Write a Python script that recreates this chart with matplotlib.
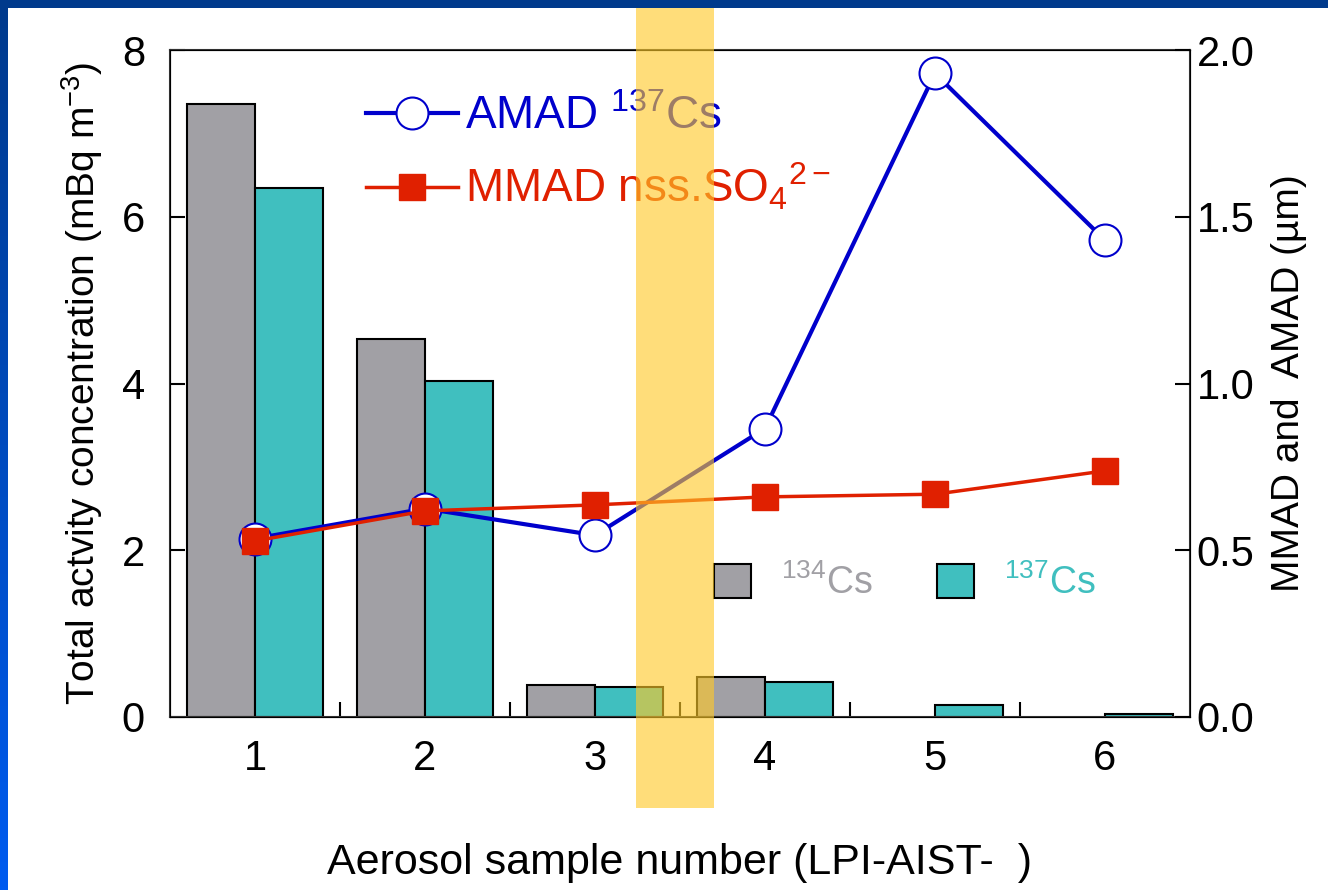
import numpy as np
import matplotlib.pyplot as plt
from matplotlib.patches import Rectangle, Patch
from matplotlib.lines import Line2D
from matplotlib.colors import LinearSegmentedColormap
from matplotlib import transforms

plt.rcParams['font.family'] = ['Liberation Sans', 'DejaVu Sans']
plt.rcParams['mathtext.fontset'] = 'custom'
plt.rcParams['mathtext.rm'] = 'Liberation Sans'
plt.rcParams['mathtext.it'] = 'Liberation Sans:italic'
plt.rcParams['mathtext.default'] = 'regular'

# data (nan = no 134Cs bar)
samples = [1, 2, 3, 4, 5, 6]
cs134 = [7.35, 4.53, 0.38, 0.48, np.nan, np.nan]
cs137 = [6.34, 4.03, 0.36, 0.42, 0.14, 0.04]
amad_cs137 = [0.535, 0.625, 0.545, 0.865, 1.93, 1.43]
mmad_so4 = [0.528, 0.618, 0.636, 0.66, 0.668, 0.738]
band = [3.24, 3.70]  # highlighted sample span

gray = '#a1a0a5'
teal = '#40bfbf'
blue = '#0000cc'
red = '#e02000'

fig = plt.figure(figsize=(13.28, 8.9), dpi=100)
ax = fig.add_axes([0.128, 0.1944, 0.768, 0.7494])
x = np.array(samples)
w = 0.4
ax.bar(x - w / 2, cs134, w, color=gray, edgecolor='black', linewidth=1.5, zorder=2)
ax.bar(x + w / 2, cs137, w, color=teal, edgecolor='black', linewidth=1.5, zorder=2)
ax.set_xlim(0.5, 6.5)
ax.set_ylim(0, 8)
ax.set_yticks([0, 2, 4, 6, 8])
ax.set_xticks(samples)
ax.set_xticks(np.arange(1.5, 6, 1), minor=True)
ax.tick_params(axis='x', which='major', length=0, pad=16, labelsize=30)
ax.tick_params(axis='x', which='minor', direction='in', length=11, width=1.5)
ax.tick_params(axis='y', direction='in', length=11, width=1.5, pad=18, labelsize=30)
for s in ax.spines.values():
    s.set_linewidth(1.5)
    s.set_color('#333333')
ax.set_xlabel('Aerosol sample number (LPI-AIST-  )', fontsize=31, labelpad=46)
ax.set_ylabel('Total actvity concentration (mBq m$^{-3}$)', fontsize=28, labelpad=12)

leg1 = ax.legend(handles=[Patch(facecolor=gray, edgecolor='black', linewidth=1.5),
                          Patch(facecolor=teal, edgecolor='black', linewidth=1.5)],
                 labels=['$^{134}$Cs', '$^{137}$Cs'], ncol=2, frameon=False,
                 fontsize=27, handlelength=1.0, handleheight=1.0, handletextpad=0.8,
                 columnspacing=1.7, loc='upper left', bbox_to_anchor=(0.50, 0.28))
for t, c in zip(leg1.get_texts(), [gray, teal]):
    t.set_color(c)

ax2 = ax.twinx()
ax2.plot(x, amad_cs137, color=blue, lw=3, marker='o', ms=23, mfc='white',
         mec=blue, mew=1.5, zorder=3)
ax2.plot(x, mmad_so4, color=red, lw=2.5, marker='s', ms=19, mfc=red,
         mec=red, zorder=4)
ax2.set_ylim(0, 2.0)
ax2.set_yticks([0, 0.5, 1.0, 1.5, 2.0])
ax2.set_yticklabels(['0.0', '0.5', '1.0', '1.5', '2.0'])
ax2.tick_params(axis='y', direction='in', length=11, width=1.5, pad=5, labelsize=30)
ax2.set_ylabel('MMAD and  AMAD (\u00b5m)', fontsize=28, labelpad=12)

leg2 = ax2.legend(handles=[Line2D([], [], color=blue, lw=3, marker='o', ms=23, mfc='white', mec=blue, mew=1.5),
                           Line2D([], [], color=red, lw=2.5, marker='s', ms=19, mfc=red, mec=red)],
                  labels=['AMAD $^{137}$Cs', 'MMAD nss.SO$_{4}{}^{2-}$'], frameon=False,
                  fontsize=33, handlelength=2.0, handletextpad=0.15, labelspacing=0.5,
                  loc='upper left', bbox_to_anchor=(0.152, 0.995))
for t, c in zip(leg2.get_texts(), [blue, red]):
    t.set_color(c)

# yellow highlight band running past the axes
tr = transforms.blended_transform_factory(ax.transData, fig.transFigure)
fig.add_artist(Rectangle((band[0], 1 - 808 / 890), band[1] - band[0], 800 / 890,
                         transform=tr, facecolor='#ffc928', alpha=0.62,
                         edgecolor='none', zorder=10))

# slide frame
fig.add_artist(Rectangle((0, 1 - 8 / 890), 1, 8 / 890, transform=fig.transFigure,
                         facecolor='#003a8c', edgecolor='none', zorder=11))
gax = fig.add_axes([0, 0, 8 / 1328, 1])
grad = np.linspace(0, 1, 256).reshape(-1, 1)
cm = LinearSegmentedColormap.from_list('frame', ['#005cf0', '#003a8c'])
gax.imshow(grad, aspect='auto', cmap=cm, origin='lower')
gax.axis('off')

fig.savefig('out.png', dpi=100)
